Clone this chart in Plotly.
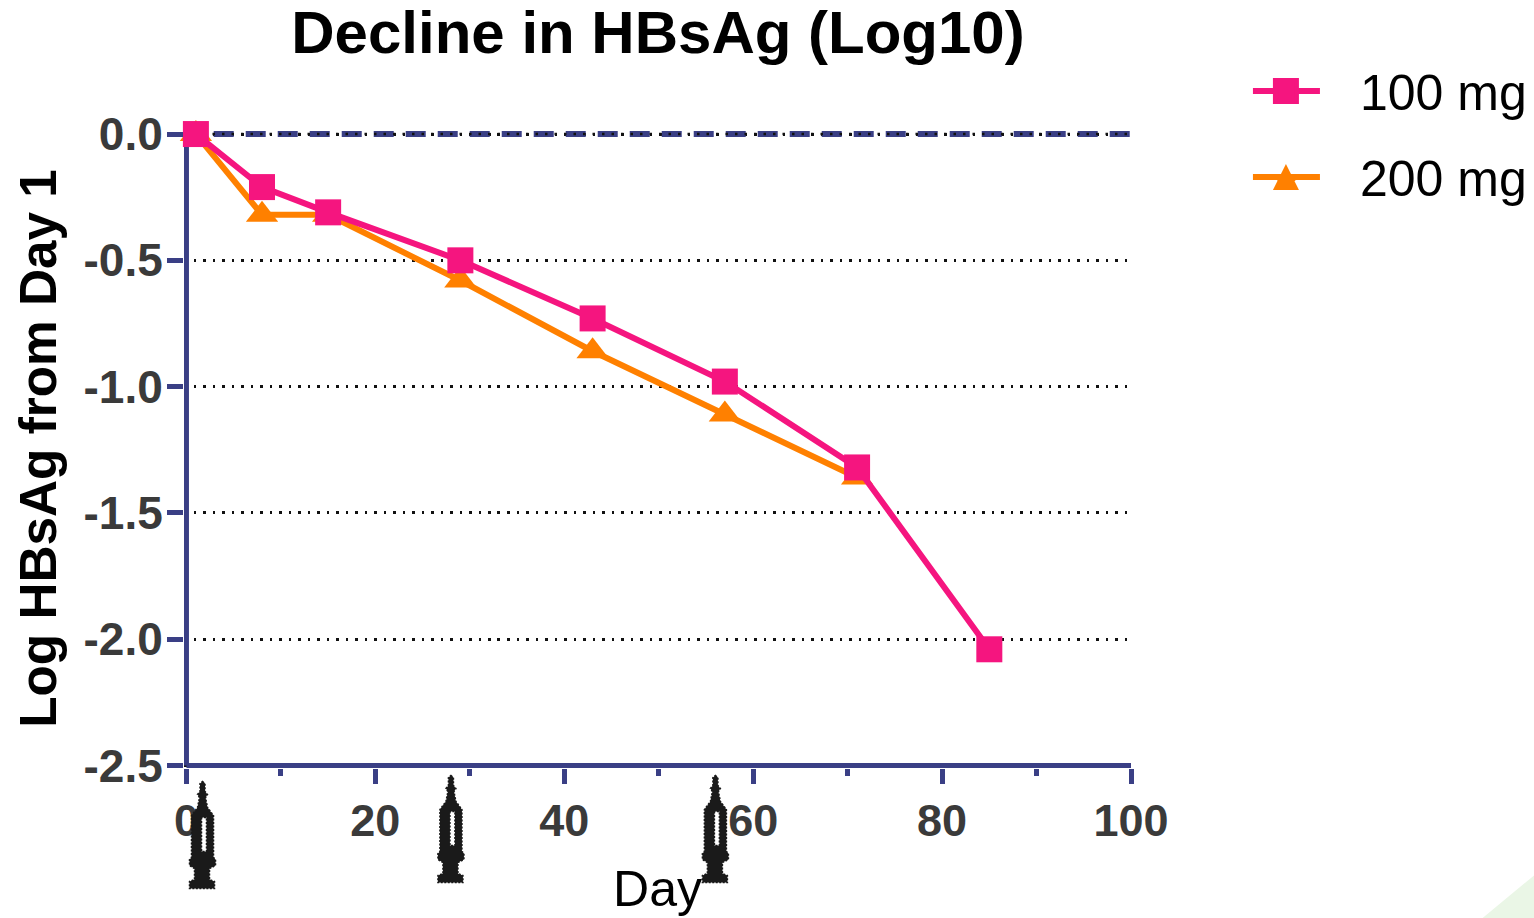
import plotly.graph_objects as go

days_100 = [1, 8, 15, 29, 43, 57, 71, 85]
vals_100 = [0.0, -0.21, -0.31, -0.50, -0.73, -0.98, -1.32, -2.04]
days_200 = [1, 8, 15, 29, 43, 57, 71]
vals_200 = [0.0, -0.32, -0.32, -0.58, -0.86, -1.11, -1.36]
x_major = [0, 20, 40, 60, 80, 100]
x_minor = [10, 30, 50, 70, 90]
y_ticks = [0, -0.5, -1.0, -1.5, -2.0, -2.5]
y_labels = ["0.0", "-0.5", "-1.0", "-1.5", "-2.0", "-2.5"]
dose_days = [1.7, 28, 56]
dose_tops = [-13.5, -7.5, -7.5]
zero_dash_x = [-0.5, 100]
zero_dot_x = [-0.26, 100]
zero_y = [0, 0]
left_spine_x = [0, 0]
left_spine_y = [-2.5, 0]
bottom_spine_x = [0, 100]
bottom_spine_y = [-2.5, -2.5]
x_range = [-0.26, 100]
y_range = [-2.51, 0.02]

NAVY = "#3a3f85"
PINK = "#f5157f"
ORANGE = "#ff8000"
FONT = "Liberation Sans"
GAP = "\u2002\u2009"

PLOT_L, PLOT_R, PLOT_T, PLOT_B = 183.54, 1131.0, 128.95, 767.52
PLOT_W, PLOT_H = PLOT_R - PLOT_L, PLOT_B - PLOT_T


def spine(x, y):
    return go.Scatter(x=x, y=y, mode="lines", showlegend=False, cliponaxis=False,
                      line=dict(color=NAVY, width=5), hoverinfo="skip")


fig = go.Figure()
fig.add_trace(spine(left_spine_x, left_spine_y))
fig.add_trace(spine(bottom_spine_x, bottom_spine_y))
fig.add_trace(go.Scatter(x=zero_dash_x, y=zero_y, mode="lines", showlegend=False, cliponaxis=False,
                         line=dict(color=NAVY, width=6, dash="20px,12px"), hoverinfo="skip"))
fig.add_trace(go.Scatter(x=zero_dot_x, y=zero_y, mode="lines", showlegend=False, cliponaxis=False,
                         line=dict(color="#111111", width=2.5, dash="2.5px,7px"), hoverinfo="skip"))
fig.add_trace(go.Scatter(x=days_200, y=vals_200, name=GAP + "200 mg", legendgroup="b", legendrank=2,
                         mode="lines+markers", cliponaxis=False, line=dict(color=ORANGE, width=6),
                         marker=dict(symbol="triangle-up", size=28, color=ORANGE)))
fig.add_trace(go.Scatter(x=days_100, y=vals_100, name=GAP + "100 mg", legendgroup="a", legendrank=1,
                         mode="lines+markers", cliponaxis=False, line=dict(color=PINK, width=6),
                         marker=dict(symbol="square", size=26, color=PINK)))


def syringe(top):
    # pixel offsets from the dose position, measured from the bottom of the plot (up is positive)
    p = [(0, top), (2.5, top - 2), (2.5, top - 10), (5, top - 13), (3, top - 16), (5, top - 26),
         (11, top - 34), (11, top - 76), (13, top - 78), (13, top - 84), (7, top - 87), (7, top - 98),
         (12, top - 100), (12, top - 107), (-13, top - 107), (-13, top - 100), (-8, top - 98),
         (-8, top - 87), (-13, top - 84), (-13, top - 78), (-11, top - 76), (-11, top - 34),
         (-5, top - 26), (-3, top - 16), (-5, top - 13), (-2.5, top - 10), (-2.5, top - 2)]
    outer = "M " + " L ".join(f"{a} {b}" for a, b in p) + " Z"
    hole = [(-1, top - 36), (-1, top - 70), (4, top - 70), (4, top - 36)]
    inner = "M " + " L ".join(f"{a} {b}" for a, b in hole) + " Z"
    return outer + " " + inner


shapes = [dict(type="path", xref="x", yref="paper", xsizemode="pixel", ysizemode="pixel",
               xanchor=d, yanchor=0, path=syringe(t), fillcolor="#1a1a1a", layer="above",
               line=dict(color="#1a1a1a", width=1.5, dash="2px,1.5px"))
          for d, t in zip(dose_days, dose_tops)]

# faint green wedge in the bottom right page corner, offsets from the plot's bottom right corner
shapes.append(dict(type="path", xref="paper", yref="paper", xsizemode="pixel", ysizemode="pixel",
                   xanchor=1, yanchor=0, layer="below", fillcolor="#eaf6e6", line=dict(width=0),
                   path="M 351 -150.5 L 403 -107.5 L 403 -150.5 Z"))

# full-size legend keys beneath the legend's own capped markers
legend_anchor_x = (1286 - PLOT_L) / PLOT_W
shapes.append(dict(type="rect", xref="paper", yref="paper", xsizemode="pixel", ysizemode="pixel",
                   xanchor=legend_anchor_x, yanchor=1, x0=-13, x1=13, y0=38 + 13, y1=38 - 13,
                   fillcolor=PINK, line=dict(width=0), layer="above"))
shapes.append(dict(type="path", xref="paper", yref="paper", xsizemode="pixel", ysizemode="pixel",
                   xanchor=legend_anchor_x, yanchor=1, fillcolor=ORANGE, line=dict(width=0), layer="above",
                   path="M -13 -61 L 13 -61 L 0 -35 Z"))

fig.update_layout(
    width=1534, height=918, autosize=False,
    margin=dict(l=PLOT_L, r=1534 - PLOT_R, t=PLOT_T, b=918 - PLOT_B, pad=0, autoexpand=False),
    paper_bgcolor="white", plot_bgcolor="white",
    font=dict(family=FONT, color="#000000"),
    title=dict(text="<b>Decline in HBsAg (Log10)</b>", x=658 / 1534, xanchor="center",
               y=1 - 32 / 918, yanchor="middle", font=dict(size=60, color="#000000", family=FONT)),
    xaxis=dict(range=x_range, tickvals=x_major, ticktext=[str(v) for v in x_major],
               showgrid=False, zeroline=False, showline=False,
               ticks="outside", ticklen=14.5, tickwidth=5, tickcolor=NAVY, ticklabelstandoff=-2,
               minor=dict(tickvals=x_minor, ticks="outside", ticklen=7, tickwidth=5, tickcolor=NAVY, showgrid=False),
               tickfont=dict(size=45, color="#3a3a3a", family=FONT, weight="bold"),
               title=dict(text="Day", font=dict(size=50, color="#000000", family=FONT), standoff=26)),
    yaxis=dict(range=y_range, tickvals=y_ticks, ticktext=y_labels,
               showgrid=True, gridcolor="#111111", gridwidth=2.5, griddash="2.5px,7px",
               zeroline=False, showline=False,
               ticks="outside", ticklen=16, tickwidth=5, tickcolor=NAVY, ticklabelstandoff=-5,
               tickfont=dict(size=46, color="#3a3a3a", family=FONT, weight="bold"),
               title=dict(text="<b>Log HBsAg from Day 1</b>",
                          font=dict(size=51.3, color="#000000", family=FONT), standoff=10)),
    legend=dict(x=(1248 - PLOT_L) / PLOT_W, xanchor="left", y=1 + (PLOT_T - 52) / PLOT_H, yanchor="top",
                traceorder="grouped", tracegroupgap=18, itemwidth=67,
                font=dict(size=50, color="#000000", family=FONT), bgcolor="rgba(0,0,0,0)"),
    shapes=shapes,
)
fig.write_html("out.html", config=dict(responsive=False, displayModeBar=False),
               post_script="document.body.style.margin='0';document.documentElement.style.overflow='hidden';")
